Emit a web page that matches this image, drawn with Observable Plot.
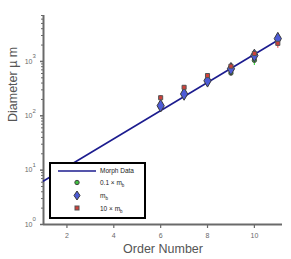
<!DOCTYPE html>
<html>
<head>
<meta charset="utf-8">
<script src="https://cdn.jsdelivr.net/npm/d3@7"></script>
<script src="https://cdn.jsdelivr.net/npm/@observablehq/plot@0.6"></script>
<style>
  body { margin: 0; background: #fff; }
  #wrap { position: relative; width: 291px; height: 259px; font-family: "Liberation Sans", Arial, sans-serif; }
  #legend { position: absolute; left: 0; top: 0; pointer-events: none; }
</style>
</head>
<body>
<div id="wrap"></div>
<script>
// Morph data line (straight on log scale)
const lineOrder = [1, 11];
const lineDiam = [6.3, 2450];

// Points
const order = [6, 7, 8, 9, 10, 11];
const mb = [153, 252, 440, 733, 1290, 2630];
const mbLow = [140, 235, 415, 690, 1200, 2450];
const mbHigh = [168, 270, 470, 780, 1390, 2850];
const tenMb = [215, 334, 550, 818, 1400, 2150];
const tenMbLow = [200, 310, 520, 780, 1330, 1740];
const tenMbHigh = [235, 360, 590, 870, 1480, 2300];
const tenthMb = [150, 245, 420, 610, 1050, 2600];
const tenthLow = [140, 230, 400, 570, 840, 2400];
const tenthHigh = [160, 260, 445, 660, 1150, 2750];

const xTicks = [2, 4, 6, 8, 10];
const yMajor = [1, 10, 100, 1000];
const yMinor = [2,3,4,5,6,7,8,9,20,30,40,50,60,70,80,90,200,300,400,500,600,700,800,900,2000,3000,4000,5000,6000,7000];

const lineData = lineOrder.map((o, i) => ({o, d: lineDiam[i]}));
const pts = (vals, lo, hi) => order.map((o, i) => ({o, v: vals[i], lo: lo[i], hi: hi[i]}));
const G = pts(tenthMb, tenthLow, tenthHigh);
const B = pts(mb, mbLow, mbHigh);
const R = pts(tenMb, tenMbLow, tenMbHigh);

const gray = "#6a6a6a";
const chart = Plot.plot({
  width: 291, height: 259,
  marginLeft: 43, marginRight: 9, marginTop: 15, marginBottom: 35,
  style: {fontFamily: "Liberation Sans, Arial, sans-serif", background: "#fff"},
  x: {domain: [1, 11.2], label: null},
  y: {type: "log", domain: [1, 7000], label: null},
  marks: [
    Plot.axisX({ticks: xTicks, tickSize: 4, tickPadding: 5, stroke: gray, color: gray, fontSize: 7, strokeWidth: 1.2, label: null}),
    Plot.axisY({ticks: yMinor, tickSize: 2, tickFormat: () => "", stroke: gray, strokeWidth: 1, label: null}),
    Plot.axisY({ticks: yMajor, tickSize: 3, tickPadding: 8, tickFormat: () => "10", stroke: gray, color: gray, fontSize: 7, strokeWidth: 1.5, label: null}),
    Plot.axisY({ticks: yMajor, tickSize: 0, tickPadding: 11, textAnchor: "start", dy: -5, tickFormat: d => String(Math.round(Math.log10(d))), color: gray, fontSize: 6, label: null}),
    Plot.ruleY([1], {stroke: gray, strokeWidth: 2}),
    Plot.ruleX([1], {stroke: gray, strokeWidth: 2}),
    Plot.line(lineData, {x: "o", y: "d", stroke: "#1c1c8f", strokeWidth: 1.6}),
    Plot.ruleX(G, {x: "o", y1: "lo", y2: "hi", stroke: "#44dd44", strokeWidth: 1.2}),
    Plot.ruleX(R, {x: "o", y1: "lo", y2: "hi", stroke: "#ee5555", strokeWidth: 1.2}),
    Plot.dot(G, {x: "o", y: "v", symbol: "circle", r: 2.2, fill: "#3fbf3f", stroke: "#444", strokeWidth: 1}),
    Plot.dot(B, {x: "o", y: "v", symbol: "diamond", r: 3.8, fill: "#4d5bd6", stroke: "#3a3a3a", strokeWidth: 1}),
    Plot.dot(R, {x: "o", y: "v", symbol: "square", r: 2.3, fill: "#d0413a", stroke: "#555", strokeWidth: 1}),
    Plot.text(["Order Number"], {frameAnchor: "bottom", dy: 24, fontSize: 12.5, fill: "#555", lineAnchor: "middle"}),
    Plot.text(["Diameter µ m"], {frameAnchor: "left", dx: -31, dy: 2, rotate: -90, fontSize: 12.5, fill: "#555", lineAnchor: "middle"})
  ]
});
document.getElementById("wrap").appendChild(chart);

// Legend overlay
const ns = "http://www.w3.org/2000/svg";
const leg = document.createElementNS(ns, "svg");
leg.setAttribute("id", "legend");
leg.setAttribute("width", 291);
leg.setAttribute("height", 259);
leg.innerHTML = `
  <rect x="50" y="163" width="95" height="55" fill="#fff" stroke="#000" stroke-width="2"/>
  <line x1="58" y1="171" x2="96" y2="171" stroke="#1c1c8f" stroke-width="1.6"/>
  <circle cx="77" cy="182.5" r="2.2" fill="#3fbf3f" stroke="#444" stroke-width="1"/>
  <path d="M77,191 L80,195.5 L77,200 L74,195.5 Z" fill="#4d5bd6" stroke="#3a3a3a" stroke-width="1"/>
  <rect x="75" y="206" width="4" height="4" fill="#d0413a" stroke="#555" stroke-width="1"/>
  <g font-family="Liberation Sans, Arial, sans-serif" font-size="6.5" fill="#222">
    <text x="100" y="173.3">Morph Data</text>
    <text x="100" y="185">0.1 × m<tspan font-size="4.5" dy="2">b</tspan></text>
    <text x="100" y="197.5">m<tspan font-size="4.5" dy="2">b</tspan></text>
    <text x="100" y="210.5">10 × m<tspan font-size="4.5" dy="2">b</tspan></text>
  </g>`;
document.getElementById("wrap").appendChild(leg);
</script>
</body>
</html>
